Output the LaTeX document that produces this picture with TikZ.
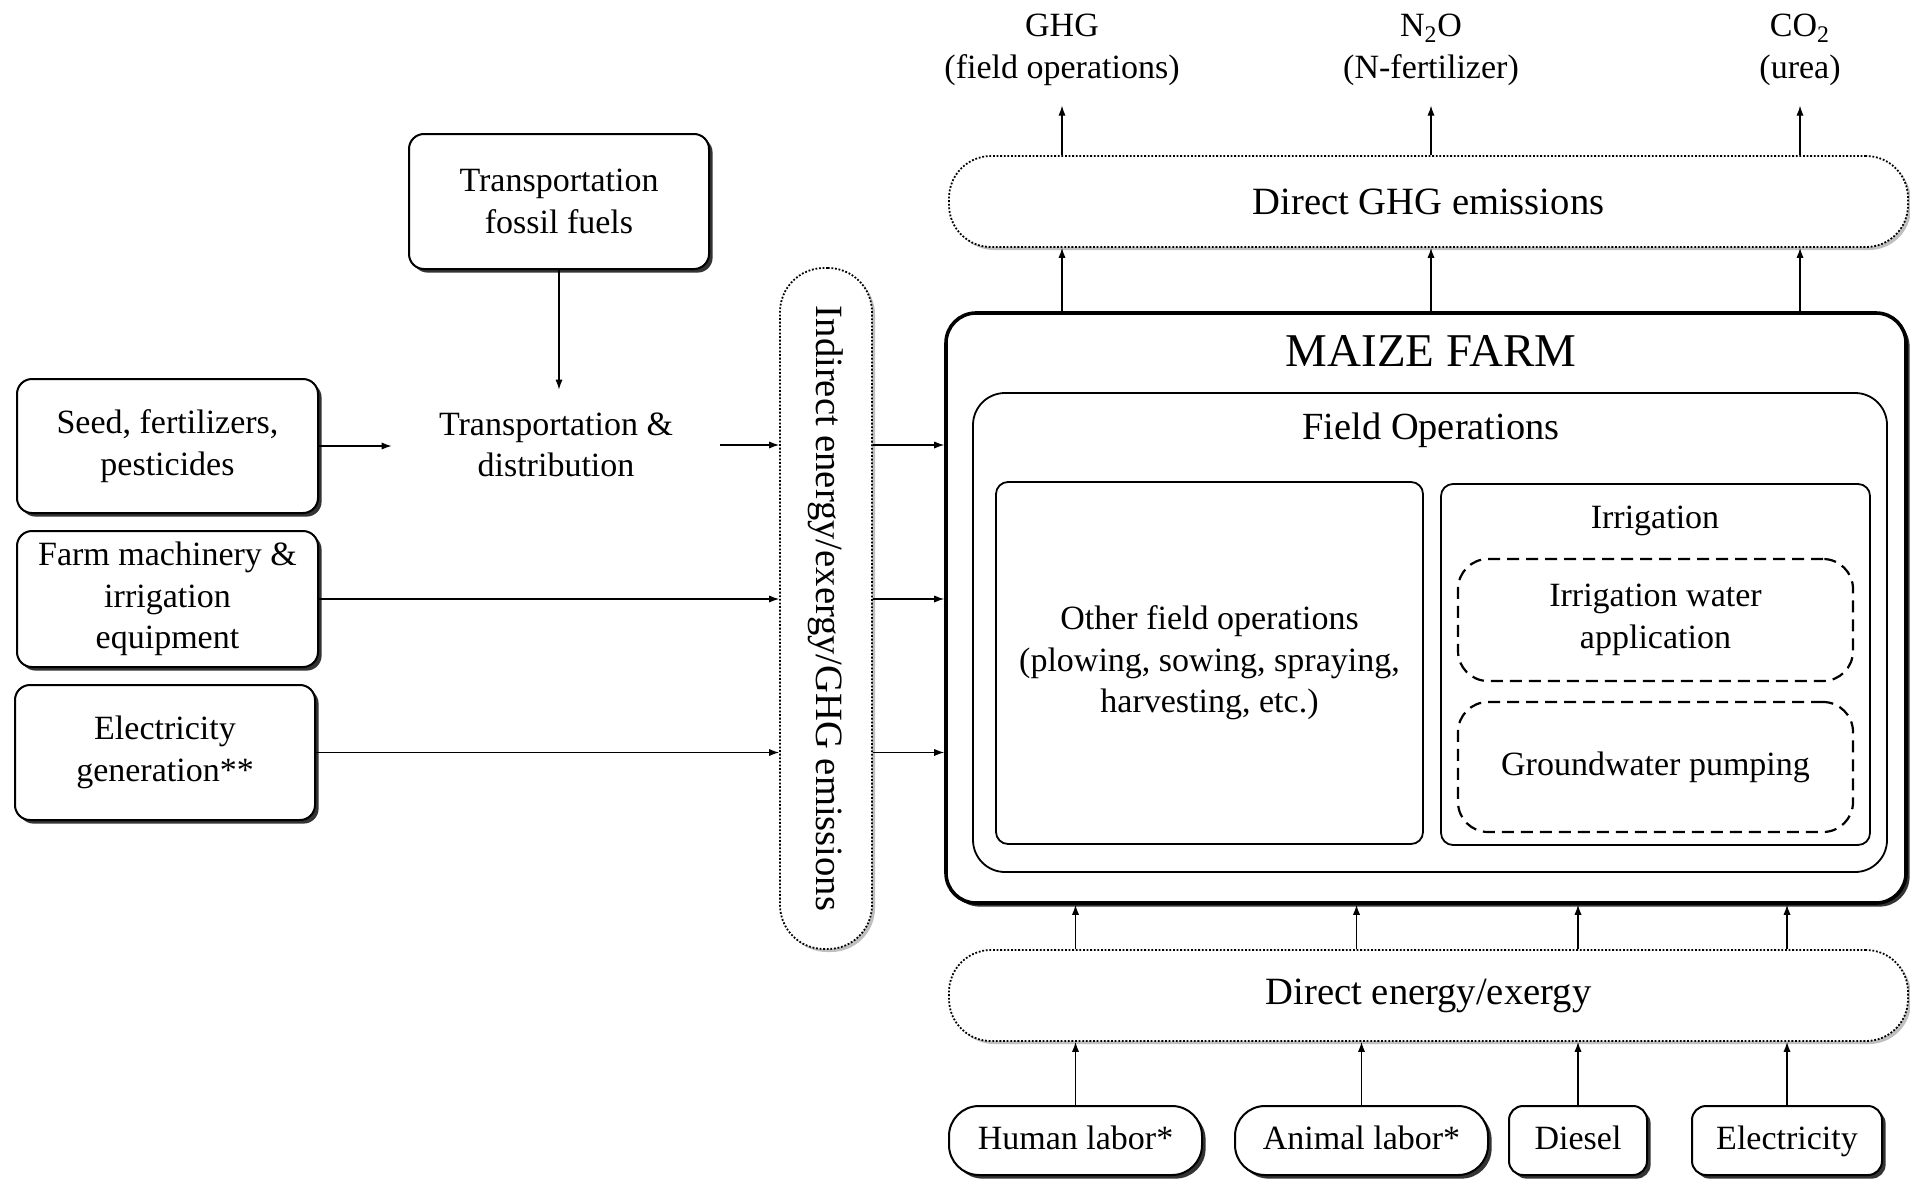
\documentclass[tikz,border=0pt]{standalone}
\usepackage{fontspec}
\setmainfont{Liberation Serif}
\usepackage{graphicx}
\usetikzlibrary{arrows.meta,shadows,positioning}
\tikzset{
  txt/.style={font=\fontsize{17}{20.7}\selectfont, align=center},
  box/.style={txt, draw, line width=1pt, rounded corners=7.5pt, fill=white,
    drop shadow={shadow xshift=1.8pt, shadow yshift=-1.8pt, fill=black!80, opacity=1}},
  srcbox/.style={box, minimum height=34.5pt, text height=0.92em, text depth=0em},
  pill/.style={draw, line width=0.9pt, dash pattern=on 0.9pt off 0.9pt, rounded corners=21pt, fill=white,
    font=\fontsize{19.3}{23}\selectfont,
    drop shadow={shadow xshift=1.5pt, shadow yshift=-1.5pt, fill=black!25, opacity=1}},
  inbox/.style={txt, draw, line width=0.9pt, rounded corners=6pt},
  dbox/.style={txt, draw, line width=1.1pt, dash pattern=on 6pt off 3.5pt, rounded corners=15pt},
  arr/.style={-{Latex[length=5pt,width=3.6pt]}, line width=0.6pt},
}
\begin{document}
\begin{tikzpicture}[x=0.5pt, y=-0.5pt]
\fill[white] (0,0) rectangle (1910,1178);
\useasboundingbox (0,0) rectangle (1910,1178);

\node[box, minimum width=150pt, minimum height=67.5pt] (foss) at (559,201.5) {Transportation\\fossil fuels};
\node[txt, minimum width=164pt, minimum height=55pt] (trans) at (556,445) {Transportation \&\\distribution};
\node[box, minimum width=150.5pt, minimum height=67pt] (seed) at (167.5,446) {Seed, fertilizers,\\pesticides};
\node[box, minimum width=150.5pt, minimum height=68pt] (mach) at (167.5,599) {Farm machinery \&\\irrigation\\equipment};
\node[box, minimum width=150pt, minimum height=67.5pt] (elec) at (165,752.5) {Electricity\\generation**};

\node[pill, rounded corners=22pt, minimum width=46pt, minimum height=340.5pt] (indir) at (826,608.5)
  {\rotatebox{-90}{Indirect energy/exergy/GHG emissions}};

\node[box, line width=1.8pt, rounded corners=15pt, minimum width=480pt, minimum height=295pt] (maize) at (1426,608) {};
\node[font=\fontsize{23.5}{28}\selectfont] (maizelbl) at (1431,351) {MAIZE FARM};
\node[inbox, rounded corners=16pt, minimum width=457pt, minimum height=239.5pt] (fieldops) at (1430,632.5) {};
\node[font=\fontsize{19.2}{23}\selectfont] (fieldlbl) at (1431,430) {Field Operations};
\node[inbox, minimum width=213.5pt, minimum height=181pt] (other) at (1209.5,663) {Other field operations\\(plowing, sowing, spraying,\\harvesting, etc.)};
\node[inbox, minimum width=214.5pt, minimum height=180.5pt] (irrig) at (1655.5,664.5) {};
\node[txt] (irriglbl) at (1655,521) {Irrigation};
\node[dbox, minimum width=197.5pt, minimum height=61pt] (iwa) at (1655.5,620) {Irrigation water\\application};
\node[dbox, minimum width=197.5pt, minimum height=65pt] (gwp) at (1655.5,767) {Groundwater pumping};

\node[pill, minimum width=479.5pt, minimum height=45.5pt] (ghg) at (1428.5,201.5) {Direct GHG emissions};
\node[pill, minimum width=479.5pt, minimum height=45.5pt] (energy) at (1428.5,995.5) {Direct energy/exergy};

\node[txt] (ghglbl) at (1062,50) {GHG\\(field operations)};
\node[txt] (nlbl) at (1431,50) {N\textsubscript{2}O\\(N-fertilizer)};
\node[txt] (clbl) at (1800,50) {CO\textsubscript{2}\\(urea)};

\node[srcbox, rounded corners=15pt, minimum width=126.5pt] (human) at (1075.5,1140.5) {Human labor*};
\node[srcbox, rounded corners=15pt, minimum width=126.5pt] (animal) at (1361.5,1140.5) {Animal labor*};
\node[srcbox, rounded corners=7pt, minimum width=69pt] (diesel) at (1578,1140.5) {Diesel};
\node[srcbox, rounded corners=7pt, minimum width=95pt] (elecb) at (1787,1140.5) {Electricity};

\draw[arr] (foss.south) -- (foss.south |- trans.north);
\draw[arr] (seed.east) -- (seed.east -| trans.west);
\draw[arr] (trans.east) -- (trans.east -| indir.west);
\draw[arr] (mach.east) -- (mach.east -| indir.west);
\draw[arr] (elec.east) -- (elec.east -| indir.west);
\draw[arr] (trans.east -| indir.east) -- (trans.east -| maize.west);
\draw[arr] (mach.east -| indir.east) -- (mach.east -| maize.west);
\draw[arr] (elec.east -| indir.east) -- (elec.east -| maize.west);

\draw[arr] (ghglbl |- maize.north) -- (ghglbl |- ghg.south);
\draw[arr] (nlbl |- maize.north) -- (nlbl |- ghg.south);
\draw[arr] (clbl |- maize.north) -- (clbl |- ghg.south);
\draw[arr, shorten >=6.5pt] (ghglbl |- ghg.north) -- (ghglbl.south);
\draw[arr, shorten >=6.5pt] (nlbl |- ghg.north) -- (nlbl.south);
\draw[arr, shorten >=6.5pt] (clbl |- ghg.north) -- (clbl.south);

\draw[arr] (human.north) -- (human.north |- energy.south);
\draw[arr] (animal.north) -- (animal.north |- energy.south);
\draw[arr] (diesel.north) -- (diesel.north |- energy.south);
\draw[arr] (elecb.north) -- (elecb.north |- energy.south);
\draw[arr] (human.north |- energy.north) -- (human.north |- maize.south);
\draw[arr] ([xshift=-2.5pt]animal.north |- energy.north) -- ([xshift=-2.5pt]animal.north |- maize.south);
\draw[arr] (diesel.north |- energy.north) -- (diesel.north |- maize.south);
\draw[arr] (elecb.north |- energy.north) -- (elecb.north |- maize.south);
\end{tikzpicture}
\end{document}
